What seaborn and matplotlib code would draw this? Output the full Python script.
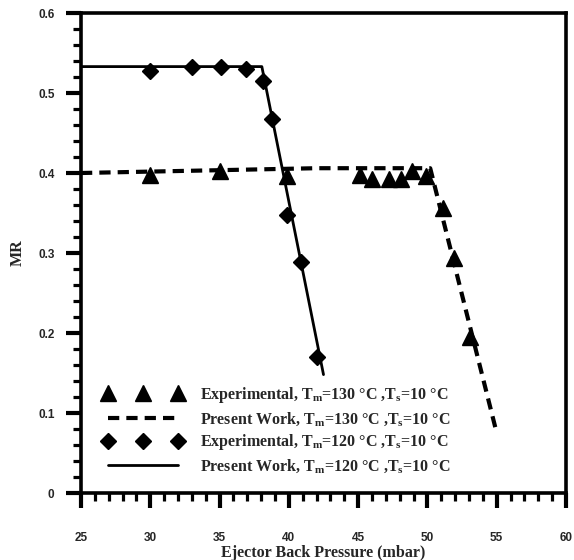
import matplotlib
matplotlib.use("Agg")
import matplotlib.pyplot as plt
import seaborn as sns
import pandas as pd
from matplotlib.ticker import MultipleLocator

# ---- data ----
exp130_x = [30, 35, 39.9, 45.1, 46.0, 47.2, 48.1, 48.9, 49.9, 51.1, 51.9, 53.1]
exp130_y = [0.397, 0.402, 0.396, 0.398, 0.393, 0.393, 0.393, 0.402, 0.396, 0.356, 0.294, 0.195]
model130_x = [25, 42, 50.2, 55.0]
model130_y = [0.400, 0.406, 0.406, 0.075]
exp120_x = [30, 33, 35.1, 36.9, 38.15, 38.8, 39.9, 40.9, 42.0]
exp120_y = [0.527, 0.532, 0.532, 0.530, 0.515, 0.468, 0.347, 0.289, 0.170]
model120_x = [25, 38.05, 42.5]
model120_y = [0.533, 0.533, 0.148]

lab_exp130 = r"Experimental, T$_{\rm m}$=130 °C ,T$_{\rm s}$=10 °C"
lab_mod130 = r"Present Work, T$_{\rm m}$=130 °C ,T$_{\rm s}$=10 °C"
lab_exp120 = r"Experimental, T$_{\rm m}$=120 °C ,T$_{\rm s}$=10 °C"
lab_mod120 = r"Present Work, T$_{\rm m}$=120 °C ,T$_{\rm s}$=10 °C"

xticks = [25, 30, 35, 40, 45, 50, 55, 60]
yticks = [0, 0.1, 0.2, 0.3, 0.4, 0.5, 0.6]
ytick_labels = ["0", "0.1", "0.2", "0.3", "0.4", "0.5", "0.6"]

sns.set_theme(style="ticks")
plt.rcParams["font.family"] = ["Liberation Serif", "DejaVu Serif"]
plt.rcParams["mathtext.fontset"] = "custom"
plt.rcParams["mathtext.rm"] = "Liberation Serif:bold"
plt.rcParams["mathtext.bf"] = "Liberation Serif:bold"
plt.rcParams["mathtext.it"] = "Liberation Serif:bold:italic"

fig = plt.figure(figsize=(5.74, 5.60), dpi=100)
ax = fig.add_axes([81 / 574, 1 - 493 / 560, (566 - 81) / 574, (493 - 13) / 560])

d_e130 = pd.DataFrame({"x": exp130_x, "y": exp130_y})
d_m130 = pd.DataFrame({"x": model130_x, "y": model130_y})
d_e120 = pd.DataFrame({"x": exp120_x, "y": exp120_y})
d_m120 = pd.DataFrame({"x": model120_x, "y": model120_y})

sns.lineplot(data=d_m130, x="x", y="y", ax=ax, color="black", lw=3.0,
             linestyle=(0, (2.7, 1.7)), sort=False, label=lab_mod130, zorder=2)
sns.lineplot(data=d_m120, x="x", y="y", ax=ax, color="black", lw=2.0,
             sort=False, label=lab_mod120, zorder=2)
ax.plot(exp130_x, exp130_y, linestyle="none", marker="^", ms=11, color="black",
        label=lab_exp130, zorder=3)
ax.plot(exp120_x, exp120_y, linestyle="none", marker="D", ms=8.5, color="black",
        label=lab_exp120, zorder=3)

ax.set_xlim(25, 60)
ax.set_ylim(0, 0.6)
ax.set_xticks(xticks)
ax.set_xticklabels([str(t) for t in xticks])
ax.set_yticks(yticks)
ax.set_yticklabels(ytick_labels)
ax.xaxis.set_minor_locator(MultipleLocator(1))
ax.yaxis.set_minor_locator(MultipleLocator(0.02))

for s in ax.spines.values():
    s.set_visible(True)
    s.set_linewidth(2.6)
    s.set_color("black")

ax.tick_params(axis="both", which="major", direction="out", length=11, width=3,
               color="black")
ax.tick_params(axis="both", which="minor", direction="out", length=6, width=2.3,
               color="black")
ax.tick_params(axis="x", which="major", pad=17)
ax.tick_params(axis="y", which="major", pad=8)
for lbl in ax.get_xticklabels() + ax.get_yticklabels():
    lbl.set_fontfamily("Liberation Sans")
    lbl.set_fontweight("bold")
    lbl.set_fontsize(8.5)

ax.set_xlabel("Ejector Back Pressure (mbar)", fontsize=11.5, fontweight="bold",
              labelpad=1)
ax.set_ylabel("MR", fontsize=11.5, fontweight="bold", labelpad=9)

h, l = ax.get_legend_handles_labels()
order = [l.index(lab_exp130), l.index(lab_mod130), l.index(lab_exp120), l.index(lab_mod120)]
leg = ax.legend([h[i] for i in order], [l[i] for i in order],
                loc="upper left", bbox_to_anchor=(0.045, 0.225), frameon=False,
                numpoints=3, handlelength=5.0, handletextpad=1.1,
                labelspacing=0.3, borderpad=0, borderaxespad=0,
                prop={"family": "Liberation Serif", "weight": "bold", "size": 11.5})

fig.savefig("out.png", dpi=100)
